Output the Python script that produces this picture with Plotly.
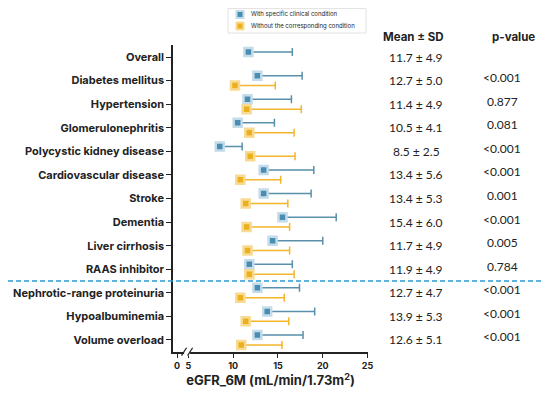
import plotly.graph_objects as go

categories = ["Overall", "Diabetes mellitus", "Hypertension", "Glomerulonephritis",
              "Polycystic kidney disease", "Cardiovascular disease", "Stroke", "Dementia",
              "Liver cirrhosis", "RAAS inhibitor", "Nephrotic-range proteinuria",
              "Hypoalbuminemia", "Volume overload"]
with_mean = [11.7, 12.7, 11.6, 10.5, 8.5, 13.4, 13.4, 15.5, 14.4, 11.8, 12.7, 13.8, 12.7]
with_sd = [4.9, 5.0, 4.9, 4.1, 2.5, 5.6, 5.3, 6.0, 5.6, 4.8, 4.7, 5.3, 5.1]
without_mean = [None, 10.2, 11.5, 11.8, 11.9, 10.8, 11.4, 11.5, 11.6, 11.8, 10.8, 11.4, 10.9]
without_sd = [None, 4.5, 6.1, 5.0, 5.0, 4.5, 4.7, 4.8, 4.7, 5.0, 4.9, 4.8, 4.55]
mean_sd_text = ["11.7 ± 4.9", "12.7 ± 5.0", "11.4 ± 4.9", "10.5 ± 4.1", "8.5 ± 2.5",
                "13.4 ± 5.6", "13.4 ± 5.3", "15.4 ± 6.0", "11.7 ± 4.9", "11.9 ± 4.9",
                "12.7 ± 4.7", "13.9 ± 5.3", "12.6 ± 5.1"]
p_values = ["", "<0.001", "0.877", "0.081", "<0.001", "<0.001", "0.001", "<0.001",
            "0.005", "0.784", "<0.001", "<0.001", "<0.001"]
series_names = ["With specific clinical condition", "Without the corresponding condition"]
x_tick_labels = ["0", "5", "10", "15", "20", "25"]
x_tick_vals = [3.73, 5, 10, 15, 20, 25]   # "0" sits on the broken-axis stub

BLUE_FILL, BLUE_EDGE, BLUE_LINE = "#4a8db3", "#c4dce9", "#5a8fab"
YEL_FILL, YEL_EDGE, YEL_LINE = "#ecb01f", "#f8db92", "#f3b52a"
AX = "#222222"
OFF = 0.21

# the page body adds an 8px margin; lay out in screen pixels minus that offset
D = 8
W, H = 542, 385
ML, MT = 173 - D, 45 - D
MR, MB = W - (368 - D), H - (352 - D)
PW, PH = W - ML - MR, H - MT - MB


def px_x(p):
    return (p - D - ML) / PW


def px_y(p):
    return (H - MB - (p - D)) / PH


rows = list(range(len(categories)))
yel_idx = [i for i in rows if without_mean[i] is not None]

fig = go.Figure()
fig.add_trace(go.Scatter(
    x=with_mean, y=[i - OFF for i in rows], mode="markers", name=series_names[0],
    marker=dict(symbol="square", size=8, color=BLUE_FILL, line=dict(color=BLUE_EDGE, width=2.5)),
    error_x=dict(type="data", array=with_sd, arrayminus=[0] * len(rows), symmetric=False,
                 color=BLUE_LINE, thickness=1.5, width=4),
    cliponaxis=False))
fig.add_trace(go.Scatter(
    x=[without_mean[i] for i in yel_idx], y=[i + OFF for i in yel_idx], mode="markers",
    name=series_names[1],
    marker=dict(symbol="square", size=8, color=YEL_FILL, line=dict(color=YEL_EDGE, width=2.5)),
    error_x=dict(type="data", array=[without_sd[i] for i in yel_idx],
                 arrayminus=[0] * len(yel_idx), symmetric=False,
                 color=YEL_LINE, thickness=1.5, width=4),
    cliponaxis=False))

ann = []
for i in rows:
    ann.append(dict(x=px_x(416), y=i, xref="paper", yref="y", text=mean_sd_text[i], showarrow=False,
                    xanchor="center", yanchor="middle",
                    font=dict(family="Lato", size=12, color=AX)))
    if p_values[i]:
        ann.append(dict(x=px_x(502), y=i - 0.13, xref="paper", yref="y", text=p_values[i],
                        showarrow=False, xanchor="center", yanchor="middle",
                        font=dict(family="Lato", size=12, color=AX)))
ann.append(dict(x=px_x(413), y=px_y(37), xref="paper", yref="paper", text="<b>Mean ± SD</b>",
                showarrow=False, xanchor="center", yanchor="middle",
                font=dict(family="Inter", size=11.5, color=AX)))
ann.append(dict(x=px_x(513), y=px_y(37), xref="paper", yref="paper", text="<b>p-value</b>",
                showarrow=False, xanchor="center", yanchor="middle",
                font=dict(family="Inter", size=11.5, color=AX)))

shapes = [
    dict(type="line", xref="paper", yref="y", x0=px_x(0), x1=px_x(545), y0=9.5, y1=9.5,
         line=dict(color="#2b9bd8", width=1.5, dash="5px,3px")),
    dict(type="rect", xref="x", yref="paper", x0=4.52, x1=5.19, y0=-0.012, y1=0.012,
         fillcolor="white", line=dict(width=0), layer="above"),
    dict(type="line", xref="x", yref="paper", x0=4.23, x1=4.79, y0=-0.012, y1=0.014,
         line=dict(color=AX, width=1.2), layer="above"),
    dict(type="line", xref="x", yref="paper", x0=4.91, x1=5.47, y0=-0.012, y1=0.014,
         line=dict(color=AX, width=1.2), layer="above"),
    # legend box
    dict(type="rect", xref="paper", yref="paper", x0=px_x(228), x1=px_x(366),
         y0=px_y(33), y1=px_y(8.6), fillcolor="white", line=dict(color="#e2e2e2", width=1)),
]
# legend glyphs
for k, (edge, fill) in enumerate([(BLUE_EDGE, BLUE_FILL), (YEL_EDGE, YEL_FILL)]):
    cy = 14.5 + 11.5 * k
    shapes.append(dict(type="rect", xref="paper", yref="paper", x0=px_x(235.5), x1=px_x(244.5),
                       y0=px_y(cy + 4.5), y1=px_y(cy - 4.5), fillcolor=edge, line=dict(width=0)))
    shapes.append(dict(type="rect", xref="paper", yref="paper", x0=px_x(237.5), x1=px_x(242.5),
                       y0=px_y(cy + 2.5), y1=px_y(cy - 2.5), fillcolor=fill, line=dict(width=0)))
    ann.append(dict(x=px_x(249), y=px_y(cy), xref="paper", yref="paper", text=series_names[k],
                    showarrow=False, xanchor="left", yanchor="middle",
                    font=dict(family="Inter", size=6, color=AX)))

fig.update_layout(
    width=W, height=H,
    margin=dict(l=ML, r=MR, t=MT, b=MB, autoexpand=False),
    plot_bgcolor="white", paper_bgcolor="white",
    showlegend=False,
    xaxis=dict(range=[3.28, 25.05], tickvals=x_tick_vals, ticktext=x_tick_labels, automargin=False,
               showline=True, linecolor=AX, linewidth=1.5, ticks="outside", ticklen=4,
               tickwidth=1.2, tickcolor=AX, showgrid=False, zeroline=False,
               tickfont=dict(family="Inter", size=9, color=AX, weight="bold"),
               title=dict(text="<b>eGFR_6M (mL/min/1.73m<sup>2</sup>)</b>", standoff=5,
                          font=dict(family="Inter", size=13, color=AX))),
    yaxis=dict(range=[12.51, -0.51], tickvals=rows, ticktext=categories, automargin=False,
               showline=True, linecolor=AX, linewidth=1.5, ticks="outside", ticklen=5,
               tickwidth=1.2, tickcolor=AX, showgrid=False, zeroline=False,
               tickfont=dict(family="Inter", size=11, color=AX, weight="bold")),
    annotations=ann, shapes=shapes,
)

fig.write_html("out.html")
